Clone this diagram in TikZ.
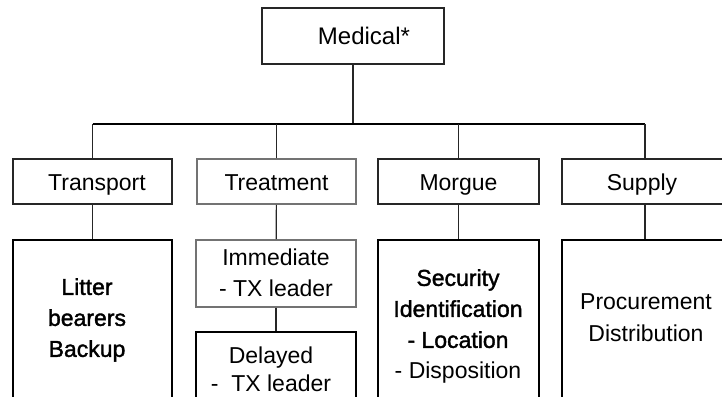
\documentclass[tikz,border=0pt]{standalone}
\usepackage{fontspec}
\setmainfont{Liberation Sans}
\newfontfamily\heavyfont[FakeBold=1.6]{Liberation Sans}
\usetikzlibrary{positioning}
\tikzset{
  box/.style={draw=black!85,line width=1.5pt,minimum height=45pt,inner sep=0pt},
  greybox/.style={box,draw=black!55},
  headtext/.style={text height=17pt,text depth=0pt},
  listbox/.style={draw=black,line width=2pt,anchor=north,minimum height=200pt,inner sep=0pt},
  txt/.style={align=center,anchor=north,inner sep=0pt},
  link/.style={draw=black!85,line width=1.2pt},
  busline/.style={draw=black,line width=2pt},
}

\begin{document}
\begin{tikzpicture}[x=1pt,y=-1pt,font=\fontsize{23}{31}\selectfont]
  \useasboundingbox (0,0) rectangle (722,396);
  \clip (0,0) rectangle (722,396);

  % head
  \node[box,headtext,text height=18pt,line width=2pt,minimum width=182pt,minimum height=56pt,font=\fontsize{24}{31}\selectfont] (medical) at (353,36) {\hspace*{22pt}Medical*};

  % sections
  \node[box,headtext,minimum width=159pt] (transport) at (92.5,181.5) {\hspace*{9pt}Transport};
  \node[greybox,headtext,minimum width=159pt] (treatment) at (276.5,181.5) {Treatment};
  \node[box,headtext,minimum width=161pt] (morgue) at (458.5,181.5) {Morgue};
  \node[box,headtext,minimum width=166pt] (supply) at (645,181.5) {Supply\hspace*{6pt}};

  \coordinate (busmid) at (353,124);
  \draw[link] (medical) -- (busmid);
  \draw[busline] (transport.north |- busmid) -- (supply.north |- busmid);
  \foreach \s in {transport,treatment,morgue,supply}
    \draw[link] (\s) -- (\s.north |- busmid);

  % duties
  \node[listbox,minimum width=159pt] (litter) at (92.5,239) {};
  \node[txt] (littertxt) at (87,278) {\heavyfont Litter\\\heavyfont bearers\\\heavyfont Backup};

  \node[greybox,anchor=north,minimum width=160pt,minimum height=67pt,align=center] (immediate) at (276,239) {Immediate\\- TX leader};
  \node[listbox,minimum width=160pt] (delayed) at (276,331) {};
  \node[txt,font=\fontsize{23}{28}\selectfont] (delayedtxt) at (271,347) {Delayed\\-\ \ TX leader};

  \node[listbox,minimum width=161pt] (security) at (458.5,239) {};
  \node[txt] (securitytxt) at (458,269) {\heavyfont Security\\\heavyfont Identification\\\heavyfont - Location\\- Disposition};

  \node[listbox,minimum width=166pt] (procure) at (645,239) {};
  \node[txt,font=\fontsize{23}{32}\selectfont] (procuretxt) at (646,293) {Procurement\\Distribution};

  \draw[link] (transport) -- (litter);
  \draw[link] (treatment) -- (immediate);
  \draw[link] (immediate) -- (delayed);
  \draw[link] (morgue) -- (security);
  \draw[link] (supply) -- (procure);
\end{tikzpicture}
\end{document}
